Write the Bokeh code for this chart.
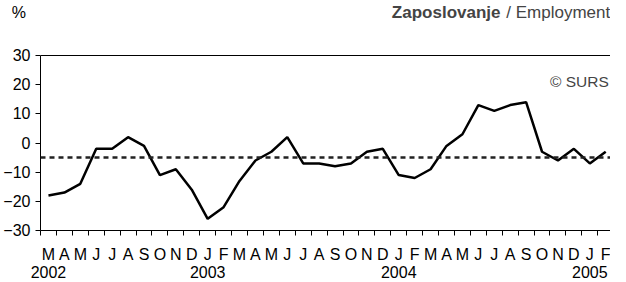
from bokeh.plotting import figure
from bokeh.models import (Range1d, FixedTicker, LinearAxis, Span, Label)
from bokeh.embed import file_html
from bokeh.resources import INLINE

months = ["M", "A", "M", "J", "J", "A", "S", "O", "N", "D",
          "J", "F", "M", "A", "M", "J", "J", "A", "S", "O", "N", "D",
          "J", "F", "M", "A", "M", "J", "J", "A", "S", "O", "N", "D",
          "J", "F"]
years = ["2002", "2003", "2004", "2005"]
year_pos = [0, 10, 22, 34]
employment = [-18, -17, -14, -2, -2, 2, -1, -11, -9, -16,
              -26, -22, -13, -6, -3, 2, -7, -7, -8, -7, -3, -2,
              -11, -12, -9, -1, 3, 13, 11, 13, 14, -3, -6, -2,
              -7, -3]
average = -5
y_ticks = [-30, -20, -10, 0, 10, 20, 30]

FONT = "Liberation Sans"
x = list(range(len(employment)))

Y_MIN, Y_MAX = -30, 30
Y_TOP = 48.86          # frame extends above the plotted range for the title row
TITLE_Y = 44.8
SURS_X, SURS_Y = 31.5, 21

p = figure(width=610, frame_height=230, output_backend="svg", toolbar_location=None,
           x_range=Range1d(-0.5, 35.3), y_range=Range1d(Y_MIN, Y_TOP),
           min_border_left=34, min_border_right=0, min_border_top=0,
           min_border_bottom=0, x_axis_location=None, y_axis_location=None)
p.grid.visible = False
p.outline_line_color = None
p.background_fill_color = "white"
p.border_fill_color = "white"

# y axis line, limited to the plotted range
yline = LinearAxis(ticker=FixedTicker(ticks=[]), bounds=(Y_MIN, Y_MAX))
yline.major_tick_line_color = None
yline.minor_tick_line_color = None
yline.major_tick_out = 0
yline.major_tick_in = 0
yline.major_label_standoff = 0
yline.axis_line_color = "black"
p.add_layout(yline, "left")

# y tick labels (+ the "%" unit on the title row)
ya = LinearAxis(ticker=FixedTicker(ticks=y_ticks + [TITLE_Y], minor_ticks=y_ticks))
ya.major_label_overrides = {TITLE_Y: "%\u00a0"}
ya.major_tick_line_color = None
ya.major_tick_out = 0
ya.major_tick_in = 0
ya.minor_tick_out = 5
ya.minor_tick_in = 0
ya.minor_tick_line_color = "black"
ya.axis_line_color = None
ya.major_label_standoff = 5
ya.major_label_text_font = FONT
ya.major_label_text_font_size = "16px"
ya.major_label_text_color = "black"
p.add_layout(ya, "left")

# month axis with year on second line
labels = {}
yi = dict(zip(year_pos, years))
for i, m in enumerate(months):
    labels[i] = m + ("\n" + yi[i] if i in yi else "\n ")
xa = LinearAxis(ticker=FixedTicker(ticks=x, minor_ticks=[i - 0.5 for i in range(len(x) + 1)]))
xa.major_label_overrides = labels
xa.major_tick_line_color = None
xa.major_tick_out = 0
xa.major_tick_in = 0
xa.minor_tick_out = 5
xa.minor_tick_in = 0
xa.minor_tick_line_color = "black"
xa.axis_line_color = "black"
xa.major_label_standoff = 10
xa.major_label_text_font = FONT
xa.major_label_text_font_size = "16px"
xa.major_label_text_line_height = 1.1
xa.major_label_text_color = "black"
p.add_layout(xa, "below")

# top edge of the plotted area
p.add_layout(Span(location=Y_MAX, dimension="width", line_color="black", line_width=1))
p.add_layout(Span(location=average, dimension="width", line_color="#222222",
                  line_width=2.5, line_dash="5 4"))
p.line(x, employment, line_color="black", line_width=2.5)

p.add_layout(Label(x=460, y=TITLE_Y, x_units="screen", y_units="data", text="Zaposlovanje",
                   text_font=FONT, text_font_size="17px", text_font_style="bold",
                   text_align="right", text_baseline="middle"))
p.add_layout(Label(x=35.28, y=TITLE_Y, text="/ Employment",
                   text_font=FONT, text_font_size="17px",
                   text_align="right", text_baseline="middle"))
p.add_layout(Label(x=SURS_X, y=SURS_Y, text="© SURS",
                   text_font=FONT, text_font_size="15.5px",
                   text_align="left", text_baseline="middle"))

open("out.html", "w").write(file_html(p, INLINE))
